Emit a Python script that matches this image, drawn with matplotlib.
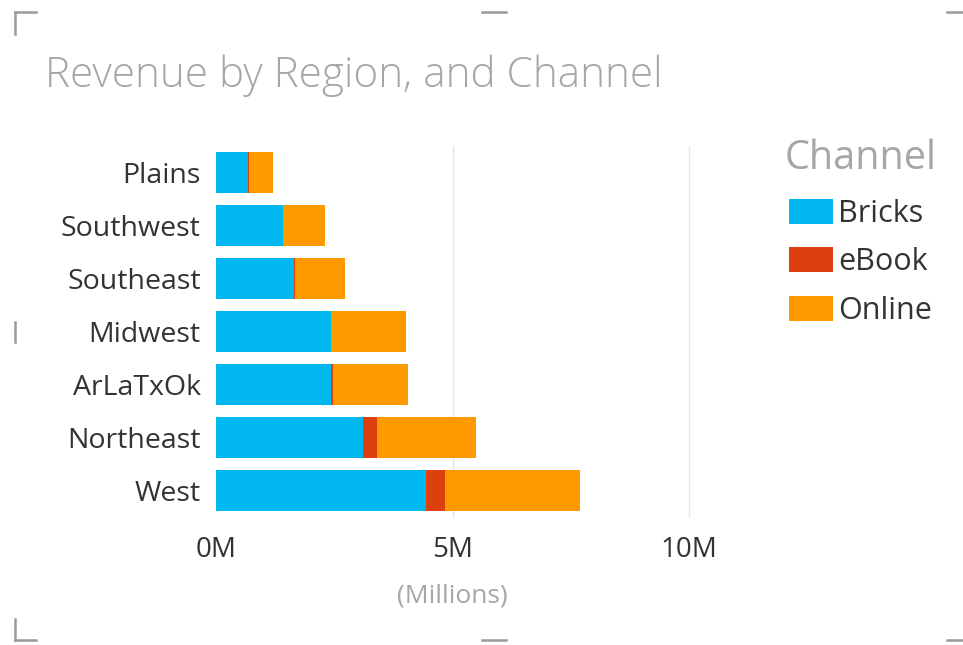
import matplotlib
matplotlib.use("Agg")
import matplotlib.pyplot as plt
from matplotlib.lines import Line2D
import numpy as np

regions = ["Plains", "Southwest", "Southeast", "Midwest", "ArLaTxOk", "Northeast", "West"]
bricks = [0.67, 1.41, 1.65, 2.43, 2.43, 3.11, 4.45]
ebook = [0.03, 0.01, 0.02, 0.01, 0.05, 0.30, 0.40]
online = [0.51, 0.88, 1.06, 1.57, 1.58, 2.08, 2.84]
channels = ["Bricks", "eBook", "Online"]
colors = ["#01B8F0", "#DD3F0F", "#FD9A00"]
xticks = [0, 5, 10]
xticklabels = ["0M", "5M", "10M"]

plt.rcParams['font.family'] = ['Open Sans', 'DejaVu Sans']

W, H = 963, 645
fig = plt.figure(figsize=(W / 100, H / 100), dpi=100)
ax = fig.add_axes([216 / W, 1 - 517 / H, 473 / W, 371 / H])

y = np.arange(len(regions))
left = np.zeros(len(regions))
handles = []
for vals, name, c in zip([bricks, ebook, online], channels, colors):
    b = ax.barh(y, vals, left=left, height=0.79, color=c, label=name, zorder=3)
    handles.append(b)
    left = left + np.array(vals)

ax.set_ylim(len(regions) - 0.5, -0.5)
ax.set_xlim(0, 10)
ax.set_yticks(y)
ax.set_yticklabels(regions, fontsize=20.5, color="#333333")
ax.set_xticks(xticks)
ax.set_xticklabels(xticklabels, fontsize=20, color="#333333")
ax.tick_params(axis='y', length=0, pad=11)
ax.tick_params(axis='x', length=0, pad=14)
for s in ax.spines.values():
    s.set_visible(False)
for xv in xticks[1:]:
    ax.axvline(xv, color="#E6E6E6", lw=1, zorder=0, clip_on=False)
ax.set_xlabel("(Millions)", fontsize=19, color="#A6A6A6", labelpad=14)

fig.text(45 / W, 1 - 76 / H, "Revenue by Region, and Channel", fontsize=30.4,
         color="#A6A6A6", va="center", ha="left", fontweight="light")

fig.text(785 / W, 1 - 159 / H, "Channel", fontsize=28.5, color="#A6A6A6",
         va="center", ha="left")

leg = fig.legend(handles=handles, labels=channels, loc="upper left",
                 bbox_to_anchor=(789 / W, 1 - 199 / H), frameon=False,
                 fontsize=22, handlelength=1.45, handleheight=0.88,
                 handletextpad=0.15, labelspacing=0.6, borderaxespad=0,
                 borderpad=0)
for t in leg.get_texts():
    t.set_color("#333333")

# focus-mode corner marks
mc = "#9A9A9A"
def seg(x0, y0, x1, y1):
    fig.add_artist(Line2D([x0 / W, x1 / W], [1 - y0 / H, 1 - y1 / H], color=mc, lw=1.8))
seg(15, 12, 36, 12); seg(15, 12, 15, 34)
seg(482, 12, 506, 12)
seg(947, 12, 963, 12)
seg(15, 322, 15, 342)
seg(15, 640, 36, 640); seg(15, 619, 15, 640)
seg(482, 640, 506, 640)
seg(947, 640, 963, 640)

fig.savefig("out.png", dpi=100, facecolor="white")
